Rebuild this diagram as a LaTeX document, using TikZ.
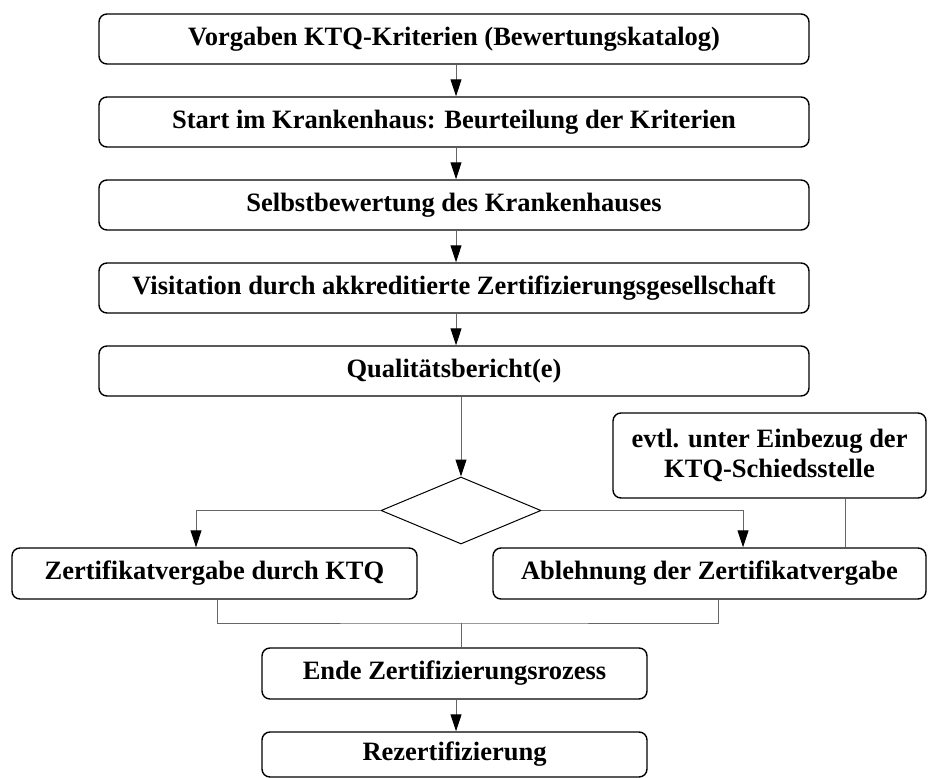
\documentclass[tikz,border=0pt]{standalone}
\usepackage{fontspec}
\setmainfont{Liberation Serif}
\usetikzlibrary{arrows.meta,shapes.geometric}
\begin{document}
\begin{tikzpicture}[x=1pt,y=-1pt,
  box/.style={draw=black,line width=1.4pt,rounded corners=8pt,minimum height=50pt,font=\fontsize{26.5}{30}\selectfont\bfseries,align=center,inner sep=0pt},
  conn/.style={draw=black!60,line width=1pt},
  arr/.style={conn,-{Triangle[length=17pt,width=11pt,fill=black,color=black]}}]
\useasboundingbox (0,0) rectangle (928,778);
\node[box,minimum width=710pt] (b1) at (454,39) {Vorgaben KTQ-Kriterien (Bewertungskatalog)};
\node[box,minimum width=710pt] (b2) at (454,122) {Start im Krankenhaus: Beurteilung der Kriterien};
\node[box,minimum width=710pt] (b3) at (454,205) {Selbstbewertung des Krankenhauses};
\node[box,minimum width=710pt] (b4) at (454,288) {Visitation durch akkreditierte Zertifizierungsgesellschaft};
\node[box,minimum width=710pt] (b5) at (454,371) {Qualitätsbericht(e)};
\node[diamond,draw=black,line width=1pt,minimum width=160pt,minimum height=67pt,inner sep=0pt] (d) at (461,510.5) {};
\node[box,minimum width=313pt,minimum height=85pt] (ev) at (769.5,455.5) {evtl. unter Einbezug der\\KTQ-Schiedsstelle};
\node[box,minimum width=405pt,minimum height=51pt] (z) at (214.5,573.5) {Zertifikatvergabe durch KTQ};
\node[box,minimum width=433pt,minimum height=51pt] (a) at (709.5,573.5) {Ablehnung der Zertifikatvergabe};
\node[box,minimum width=385pt,minimum height=51pt] (e) at (454.5,673.5) {Ende Zertifizierungsrozess};
\node[box,minimum width=385pt,minimum height=45pt] (r) at (454.5,754.5) {Rezertifizierung};
\coordinate (j) at (461,623);
\draw[arr] (b1.south -| 456,0) -- (b2.north -| 456,0);
\draw[arr] (b2.south -| 456,0) -- (b3.north -| 456,0);
\draw[arr] (b3.south -| 456,0) -- (b4.north -| 456,0);
\draw[arr] (b4.south -| 456,0) -- (b5.north -| 456,0);
\draw[arr] (b5.south -| d.north) -- (d.north);
\draw[arr] (d.west) -| (z.north -| 196,0);
\draw[arr] (d.east) -| (a.north -| 743,0);
\draw[conn] (ev.south -| 845,0) -- (a.north -| 845,0);
\draw[conn] (z.south -| 217,0) |- (j) -| (a.south -| 718,0);
\draw[conn] (j) -- (e.north -| j);
\draw[arr] (e.south -| 456,0) -- (r.north -| 456,0);
\end{tikzpicture}
\end{document}
